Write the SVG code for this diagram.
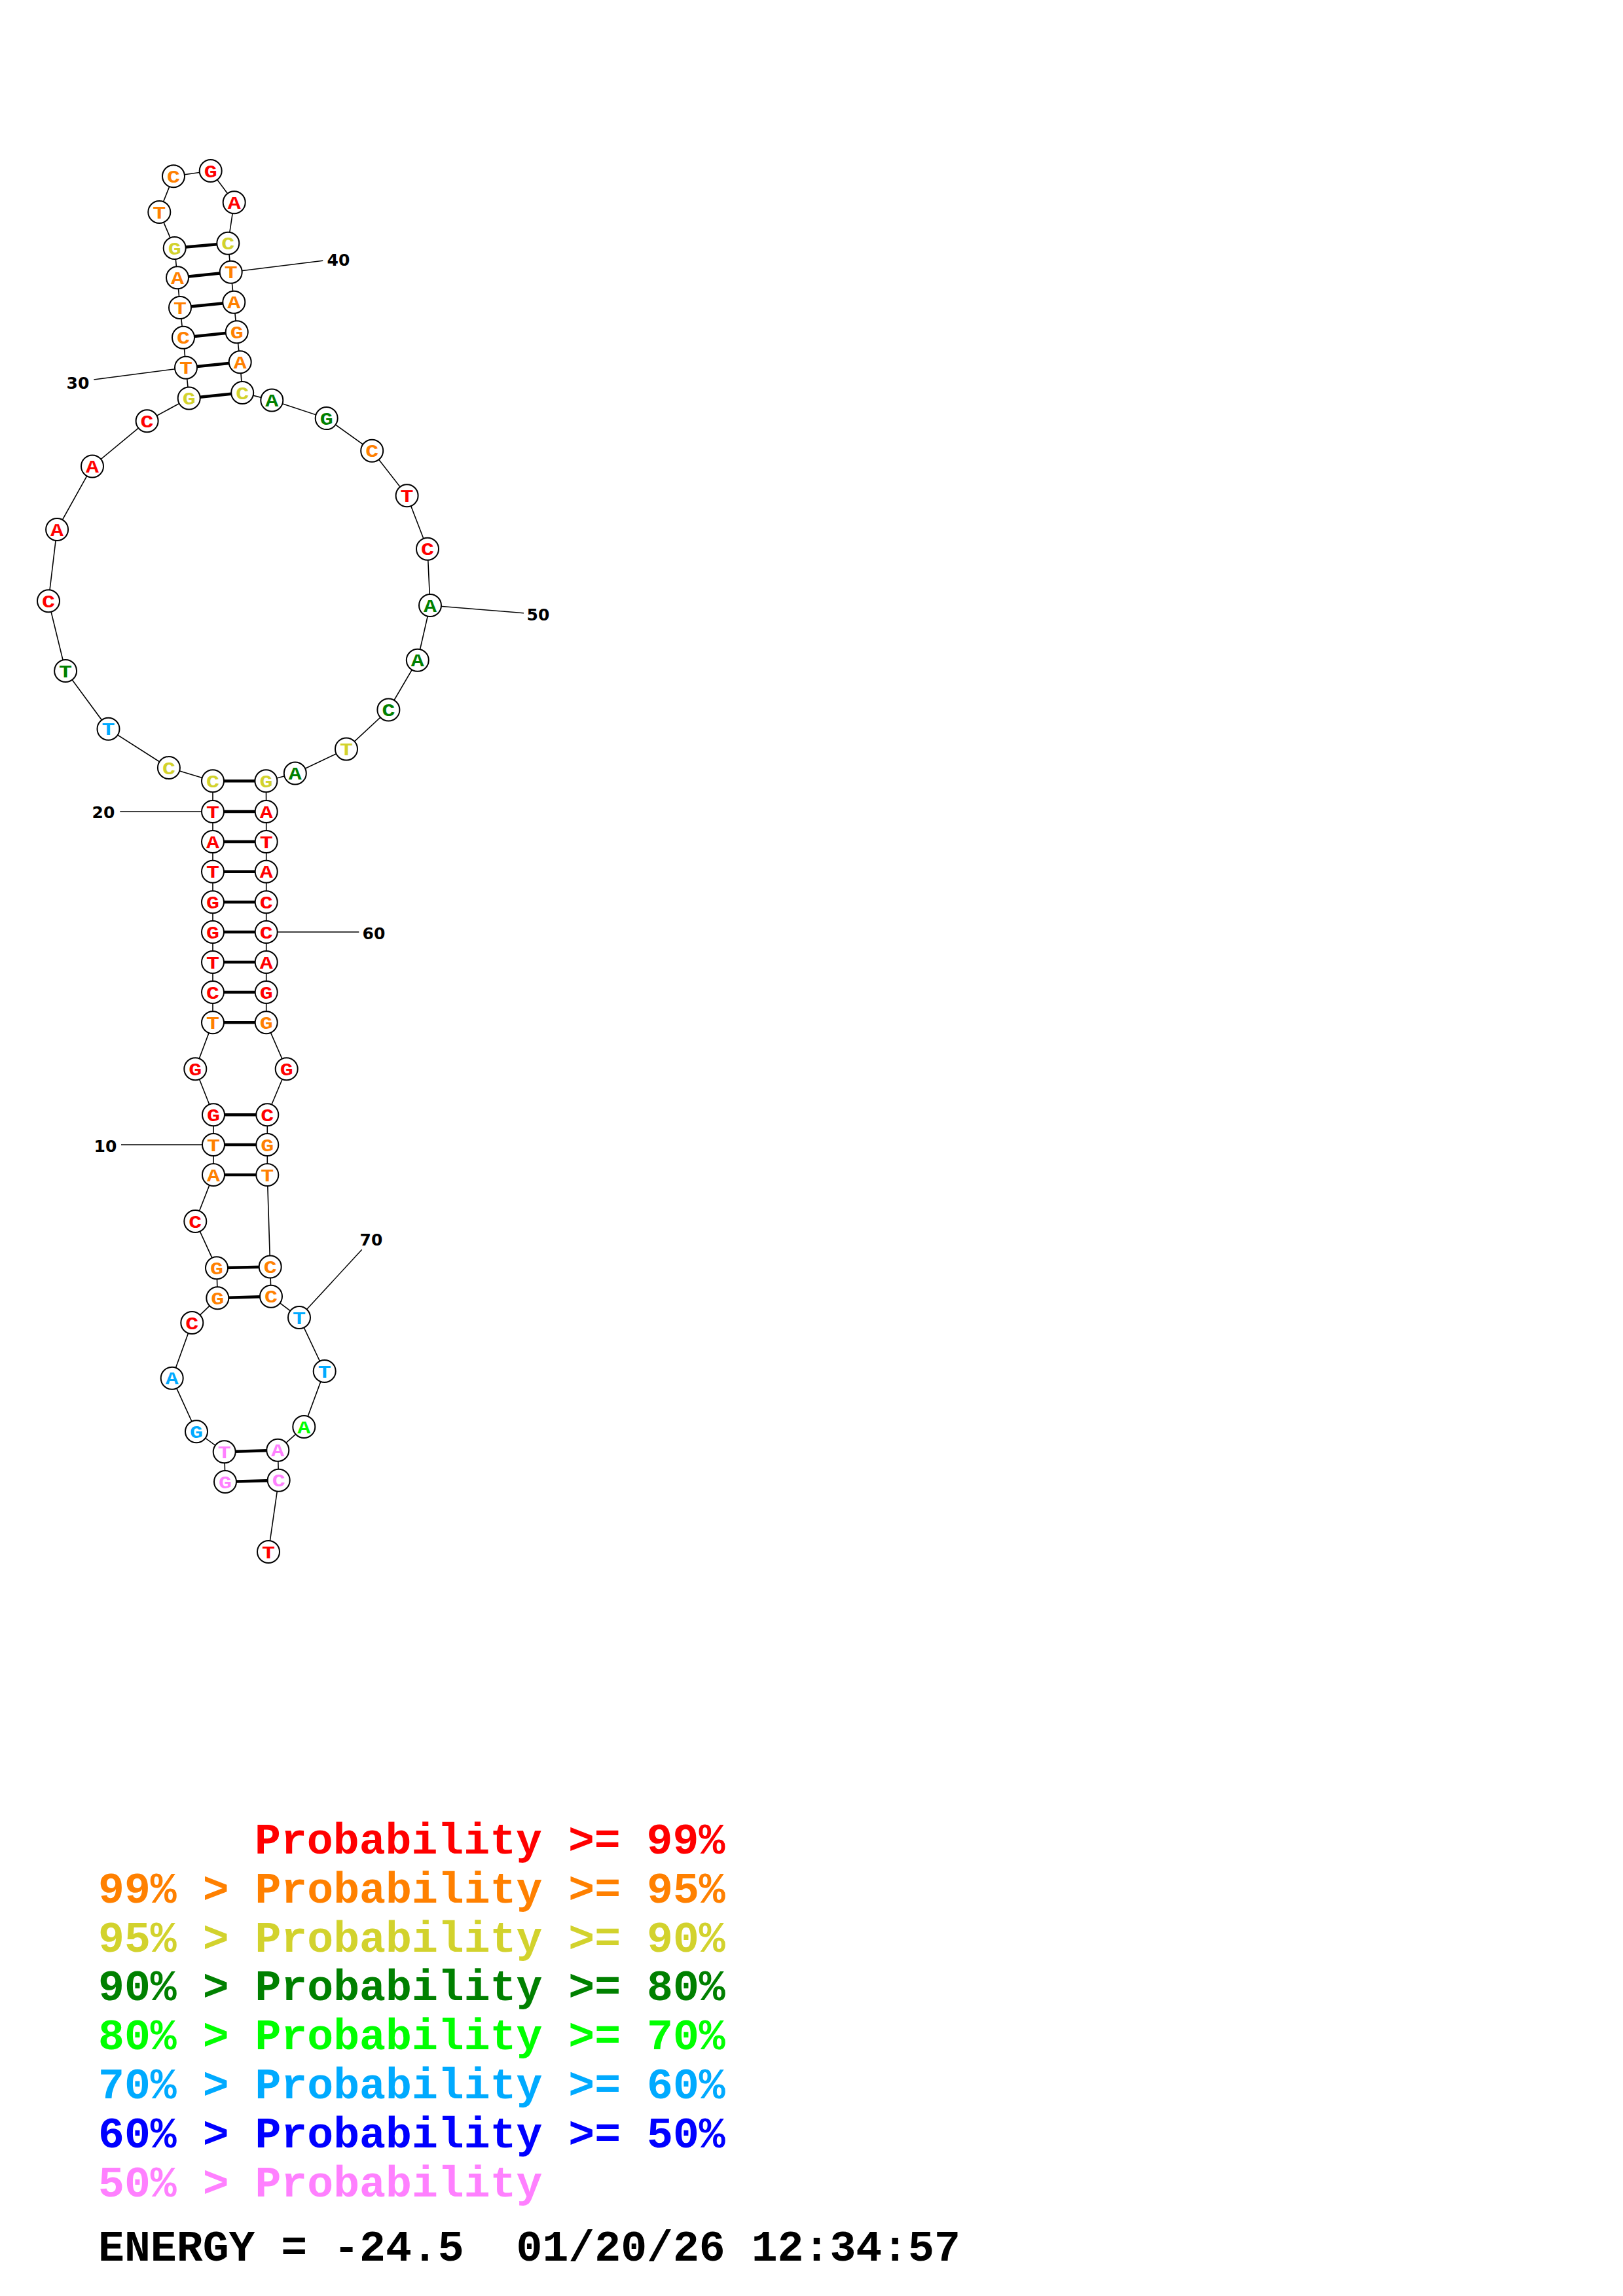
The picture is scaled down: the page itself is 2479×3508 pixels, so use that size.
<svg xmlns="http://www.w3.org/2000/svg" width="2479" height="3508" viewBox="0 0 2479 3508">
<style>
.bb{stroke:#000;stroke-width:1.6;fill:none}
.bp{stroke:#000;stroke-width:4.5;fill:none}
.tk{stroke:#000;stroke-width:1.5;fill:none}
.nd circle{fill:#fff;stroke:#000;stroke-width:2}
.nd text{font-family:"Liberation Mono","Courier New",monospace;font-weight:bold;font-size:28px;text-anchor:middle}
.num{font-family:"DejaVu Sans","Verdana",sans-serif;font-weight:bold;font-size:25px;text-anchor:middle;fill:#000}
.lg{font-family:"Liberation Mono","Courier New",monospace;font-weight:bold;font-size:66.5px;white-space:pre}
.r{fill:#FF0000}.o{fill:#FF8000}.y{fill:#D2D22D}.g{fill:#008000}.l{fill:#00FF00}.c{fill:#00AAFF}.b{fill:#0000FF}.p{fill:#FF80FF}.k{fill:#000}
</style>
<rect width="2479" height="3508" fill="#fff"/>
<g id="connectors">
<polyline class="bb" points="344,2264 342.7,2218.3 300,2187.3 262.7,2105.7 293.3,2021 332.3,1983.3 331,1937.3 298.3,1866 326,1795 326,1749 326,1703.3 298.3,1633.3 325,1562.3 325,1516 325,1470 325,1424 325,1378.3 325,1331.7 325,1286 325,1240 325,1193.3 257.9,1173 165.5,1113.8 100.1,1025 74,918.2 87.1,809 141,712.4 224.6,643.2 288.7,608.4 284,561.7 280,515.7 275,470 271,424.3 266.7,379 243.3,324 265,269.3 321.7,261 357.7,309.3 348.3,371.7 352.7,415.7 357.3,461.7 361.7,507.3 366.7,553.3 370.2,600 415.3,611.5 498.7,639.1 568.2,688.8 621.6,757.3 653,838.8 657,925 637.8,1008.7 593.4,1084.5 529,1144.4 450.8,1181.5 406.4,1193.3 406.7,1240 406.7,1286 406.7,1331.7 406.7,1378.3 406.7,1424 406.7,1470 406.7,1516 406.7,1562.3 437.7,1633.3 408.3,1703.3 408.3,1749 408.3,1795 412.7,1935.5 414,1980.7 457,2013 495.7,2095 464.3,2180 424.3,2215.7 425.7,2261.7 410,2371"/>
<line class="bp" x1="344" y1="2264" x2="425.7" y2="2261.7"/>
<line class="bp" x1="342.7" y1="2218.3" x2="424.3" y2="2215.7"/>
<line class="bp" x1="332.3" y1="1983.3" x2="414" y2="1980.7"/>
<line class="bp" x1="331" y1="1937.3" x2="412.7" y2="1935.5"/>
<line class="bp" x1="326" y1="1795" x2="408.3" y2="1795"/>
<line class="bp" x1="326" y1="1749" x2="408.3" y2="1749"/>
<line class="bp" x1="326" y1="1703.3" x2="408.3" y2="1703.3"/>
<line class="bp" x1="325" y1="1562.3" x2="406.7" y2="1562.3"/>
<line class="bp" x1="325" y1="1516" x2="406.7" y2="1516"/>
<line class="bp" x1="325" y1="1470" x2="406.7" y2="1470"/>
<line class="bp" x1="325" y1="1424" x2="406.7" y2="1424"/>
<line class="bp" x1="325" y1="1378.3" x2="406.7" y2="1378.3"/>
<line class="bp" x1="325" y1="1331.7" x2="406.7" y2="1331.7"/>
<line class="bp" x1="325" y1="1286" x2="406.7" y2="1286"/>
<line class="bp" x1="325" y1="1240" x2="406.7" y2="1240"/>
<line class="bp" x1="325" y1="1193.3" x2="406.4" y2="1193.3"/>
<line class="bp" x1="288.7" y1="608.4" x2="370.2" y2="600"/>
<line class="bp" x1="284" y1="561.7" x2="366.7" y2="553.3"/>
<line class="bp" x1="280" y1="515.7" x2="361.7" y2="507.3"/>
<line class="bp" x1="275" y1="470" x2="357.3" y2="461.7"/>
<line class="bp" x1="271" y1="424.3" x2="352.7" y2="415.7"/>
<line class="bp" x1="266.7" y1="379" x2="348.3" y2="371.7"/>
<line class="tk" x1="284" y1="561.7" x2="143.3" y2="580"/>
<line class="tk" x1="352.7" y1="415.7" x2="493.3" y2="398.3"/>
<line class="tk" x1="657" y1="925" x2="800" y2="936.7"/>
<line class="tk" x1="325" y1="1240" x2="183.3" y2="1240"/>
<line class="tk" x1="406.7" y1="1424" x2="548.3" y2="1424"/>
<line class="tk" x1="326" y1="1749" x2="185" y2="1749"/>
<line class="tk" x1="457" y1="2013" x2="552.7" y2="1909.3"/>
</g>
<g id="labels">
<text class="num" x="119" y="594">30</text>
<text class="num" x="517" y="406">40</text>
<text class="num" x="822" y="948">50</text>
<text class="num" x="158" y="1250">20</text>
<text class="num" x="571" y="1435">60</text>
<text class="num" x="161" y="1760">10</text>
<text class="num" x="567" y="1903">70</text>
</g>
<g id="n1" class="nd"><circle cx="344" cy="2264" r="17"/><text class="p" x="344" y="2273.5" textLength="20" lengthAdjust="spacingAndGlyphs">G</text></g>
<g id="n2" class="nd"><circle cx="342.7" cy="2218.3" r="17"/><text class="p" x="342.7" y="2227.8" textLength="20" lengthAdjust="spacingAndGlyphs">T</text></g>
<g id="n3" class="nd"><circle cx="300" cy="2187.3" r="17"/><text class="c" x="300" y="2196.8" textLength="20" lengthAdjust="spacingAndGlyphs">G</text></g>
<g id="n4" class="nd"><circle cx="262.7" cy="2105.7" r="17"/><text class="c" x="262.7" y="2115.2" textLength="20" lengthAdjust="spacingAndGlyphs">A</text></g>
<g id="n5" class="nd"><circle cx="293.3" cy="2021" r="17"/><text class="r" x="293.3" y="2030.5" textLength="20" lengthAdjust="spacingAndGlyphs">C</text></g>
<g id="n6" class="nd"><circle cx="332.3" cy="1983.3" r="17"/><text class="o" x="332.3" y="1992.8" textLength="20" lengthAdjust="spacingAndGlyphs">G</text></g>
<g id="n7" class="nd"><circle cx="331" cy="1937.3" r="17"/><text class="o" x="331" y="1946.8" textLength="20" lengthAdjust="spacingAndGlyphs">G</text></g>
<g id="n8" class="nd"><circle cx="298.3" cy="1866" r="17"/><text class="r" x="298.3" y="1875.5" textLength="20" lengthAdjust="spacingAndGlyphs">C</text></g>
<g id="n9" class="nd"><circle cx="326" cy="1795" r="17"/><text class="o" x="326" y="1804.5" textLength="20" lengthAdjust="spacingAndGlyphs">A</text></g>
<g id="n10" class="nd"><circle cx="326" cy="1749" r="17"/><text class="o" x="326" y="1758.5" textLength="20" lengthAdjust="spacingAndGlyphs">T</text></g>
<g id="n11" class="nd"><circle cx="326" cy="1703.3" r="17"/><text class="r" x="326" y="1712.8" textLength="20" lengthAdjust="spacingAndGlyphs">G</text></g>
<g id="n12" class="nd"><circle cx="298.3" cy="1633.3" r="17"/><text class="r" x="298.3" y="1642.8" textLength="20" lengthAdjust="spacingAndGlyphs">G</text></g>
<g id="n13" class="nd"><circle cx="325" cy="1562.3" r="17"/><text class="o" x="325" y="1571.8" textLength="20" lengthAdjust="spacingAndGlyphs">T</text></g>
<g id="n14" class="nd"><circle cx="325" cy="1516" r="17"/><text class="r" x="325" y="1525.5" textLength="20" lengthAdjust="spacingAndGlyphs">C</text></g>
<g id="n15" class="nd"><circle cx="325" cy="1470" r="17"/><text class="r" x="325" y="1479.5" textLength="20" lengthAdjust="spacingAndGlyphs">T</text></g>
<g id="n16" class="nd"><circle cx="325" cy="1424" r="17"/><text class="r" x="325" y="1433.5" textLength="20" lengthAdjust="spacingAndGlyphs">G</text></g>
<g id="n17" class="nd"><circle cx="325" cy="1378.3" r="17"/><text class="r" x="325" y="1387.8" textLength="20" lengthAdjust="spacingAndGlyphs">G</text></g>
<g id="n18" class="nd"><circle cx="325" cy="1331.7" r="17"/><text class="r" x="325" y="1341.2" textLength="20" lengthAdjust="spacingAndGlyphs">T</text></g>
<g id="n19" class="nd"><circle cx="325" cy="1286" r="17"/><text class="r" x="325" y="1295.5" textLength="20" lengthAdjust="spacingAndGlyphs">A</text></g>
<g id="n20" class="nd"><circle cx="325" cy="1240" r="17"/><text class="r" x="325" y="1249.5" textLength="20" lengthAdjust="spacingAndGlyphs">T</text></g>
<g id="n21" class="nd"><circle cx="325" cy="1193.3" r="17"/><text class="y" x="325" y="1202.8" textLength="20" lengthAdjust="spacingAndGlyphs">C</text></g>
<g id="n22" class="nd"><circle cx="257.9" cy="1173" r="17"/><text class="y" x="257.9" y="1182.5" textLength="20" lengthAdjust="spacingAndGlyphs">C</text></g>
<g id="n23" class="nd"><circle cx="165.5" cy="1113.8" r="17"/><text class="c" x="165.5" y="1123.3" textLength="20" lengthAdjust="spacingAndGlyphs">T</text></g>
<g id="n24" class="nd"><circle cx="100.1" cy="1025" r="17"/><text class="g" x="100.1" y="1034.5" textLength="20" lengthAdjust="spacingAndGlyphs">T</text></g>
<g id="n25" class="nd"><circle cx="74" cy="918.2" r="17"/><text class="r" x="74" y="927.7" textLength="20" lengthAdjust="spacingAndGlyphs">C</text></g>
<g id="n26" class="nd"><circle cx="87.1" cy="809" r="17"/><text class="r" x="87.1" y="818.5" textLength="20" lengthAdjust="spacingAndGlyphs">A</text></g>
<g id="n27" class="nd"><circle cx="141" cy="712.4" r="17"/><text class="r" x="141" y="721.9" textLength="20" lengthAdjust="spacingAndGlyphs">A</text></g>
<g id="n28" class="nd"><circle cx="224.6" cy="643.2" r="17"/><text class="r" x="224.6" y="652.7" textLength="20" lengthAdjust="spacingAndGlyphs">C</text></g>
<g id="n29" class="nd"><circle cx="288.7" cy="608.4" r="17"/><text class="y" x="288.7" y="617.9" textLength="20" lengthAdjust="spacingAndGlyphs">G</text></g>
<g id="n30" class="nd"><circle cx="284" cy="561.7" r="17"/><text class="o" x="284" y="571.2" textLength="20" lengthAdjust="spacingAndGlyphs">T</text></g>
<g id="n31" class="nd"><circle cx="280" cy="515.7" r="17"/><text class="o" x="280" y="525.2" textLength="20" lengthAdjust="spacingAndGlyphs">C</text></g>
<g id="n32" class="nd"><circle cx="275" cy="470" r="17"/><text class="o" x="275" y="479.5" textLength="20" lengthAdjust="spacingAndGlyphs">T</text></g>
<g id="n33" class="nd"><circle cx="271" cy="424.3" r="17"/><text class="o" x="271" y="433.8" textLength="20" lengthAdjust="spacingAndGlyphs">A</text></g>
<g id="n34" class="nd"><circle cx="266.7" cy="379" r="17"/><text class="y" x="266.7" y="388.5" textLength="20" lengthAdjust="spacingAndGlyphs">G</text></g>
<g id="n35" class="nd"><circle cx="243.3" cy="324" r="17"/><text class="o" x="243.3" y="333.5" textLength="20" lengthAdjust="spacingAndGlyphs">T</text></g>
<g id="n36" class="nd"><circle cx="265" cy="269.3" r="17"/><text class="o" x="265" y="278.8" textLength="20" lengthAdjust="spacingAndGlyphs">C</text></g>
<g id="n37" class="nd"><circle cx="321.7" cy="261" r="17"/><text class="r" x="321.7" y="270.5" textLength="20" lengthAdjust="spacingAndGlyphs">G</text></g>
<g id="n38" class="nd"><circle cx="357.7" cy="309.3" r="17"/><text class="r" x="357.7" y="318.8" textLength="20" lengthAdjust="spacingAndGlyphs">A</text></g>
<g id="n39" class="nd"><circle cx="348.3" cy="371.7" r="17"/><text class="y" x="348.3" y="381.2" textLength="20" lengthAdjust="spacingAndGlyphs">C</text></g>
<g id="n40" class="nd"><circle cx="352.7" cy="415.7" r="17"/><text class="o" x="352.7" y="425.2" textLength="20" lengthAdjust="spacingAndGlyphs">T</text></g>
<g id="n41" class="nd"><circle cx="357.3" cy="461.7" r="17"/><text class="o" x="357.3" y="471.2" textLength="20" lengthAdjust="spacingAndGlyphs">A</text></g>
<g id="n42" class="nd"><circle cx="361.7" cy="507.3" r="17"/><text class="o" x="361.7" y="516.8" textLength="20" lengthAdjust="spacingAndGlyphs">G</text></g>
<g id="n43" class="nd"><circle cx="366.7" cy="553.3" r="17"/><text class="o" x="366.7" y="562.8" textLength="20" lengthAdjust="spacingAndGlyphs">A</text></g>
<g id="n44" class="nd"><circle cx="370.2" cy="600" r="17"/><text class="y" x="370.2" y="609.5" textLength="20" lengthAdjust="spacingAndGlyphs">C</text></g>
<g id="n45" class="nd"><circle cx="415.3" cy="611.5" r="17"/><text class="g" x="415.3" y="621" textLength="20" lengthAdjust="spacingAndGlyphs">A</text></g>
<g id="n46" class="nd"><circle cx="498.7" cy="639.1" r="17"/><text class="g" x="498.7" y="648.6" textLength="20" lengthAdjust="spacingAndGlyphs">G</text></g>
<g id="n47" class="nd"><circle cx="568.2" cy="688.8" r="17"/><text class="o" x="568.2" y="698.3" textLength="20" lengthAdjust="spacingAndGlyphs">C</text></g>
<g id="n48" class="nd"><circle cx="621.6" cy="757.3" r="17"/><text class="r" x="621.6" y="766.8" textLength="20" lengthAdjust="spacingAndGlyphs">T</text></g>
<g id="n49" class="nd"><circle cx="653" cy="838.8" r="17"/><text class="r" x="653" y="848.3" textLength="20" lengthAdjust="spacingAndGlyphs">C</text></g>
<g id="n50" class="nd"><circle cx="657" cy="925" r="17"/><text class="g" x="657" y="934.5" textLength="20" lengthAdjust="spacingAndGlyphs">A</text></g>
<g id="n51" class="nd"><circle cx="637.8" cy="1008.7" r="17"/><text class="g" x="637.8" y="1018.2" textLength="20" lengthAdjust="spacingAndGlyphs">A</text></g>
<g id="n52" class="nd"><circle cx="593.4" cy="1084.5" r="17"/><text class="g" x="593.4" y="1094" textLength="20" lengthAdjust="spacingAndGlyphs">C</text></g>
<g id="n53" class="nd"><circle cx="529" cy="1144.4" r="17"/><text class="y" x="529" y="1153.9" textLength="20" lengthAdjust="spacingAndGlyphs">T</text></g>
<g id="n54" class="nd"><circle cx="450.8" cy="1181.5" r="17"/><text class="g" x="450.8" y="1191" textLength="20" lengthAdjust="spacingAndGlyphs">A</text></g>
<g id="n55" class="nd"><circle cx="406.4" cy="1193.3" r="17"/><text class="y" x="406.4" y="1202.8" textLength="20" lengthAdjust="spacingAndGlyphs">G</text></g>
<g id="n56" class="nd"><circle cx="406.7" cy="1240" r="17"/><text class="r" x="406.7" y="1249.5" textLength="20" lengthAdjust="spacingAndGlyphs">A</text></g>
<g id="n57" class="nd"><circle cx="406.7" cy="1286" r="17"/><text class="r" x="406.7" y="1295.5" textLength="20" lengthAdjust="spacingAndGlyphs">T</text></g>
<g id="n58" class="nd"><circle cx="406.7" cy="1331.7" r="17"/><text class="r" x="406.7" y="1341.2" textLength="20" lengthAdjust="spacingAndGlyphs">A</text></g>
<g id="n59" class="nd"><circle cx="406.7" cy="1378.3" r="17"/><text class="r" x="406.7" y="1387.8" textLength="20" lengthAdjust="spacingAndGlyphs">C</text></g>
<g id="n60" class="nd"><circle cx="406.7" cy="1424" r="17"/><text class="r" x="406.7" y="1433.5" textLength="20" lengthAdjust="spacingAndGlyphs">C</text></g>
<g id="n61" class="nd"><circle cx="406.7" cy="1470" r="17"/><text class="r" x="406.7" y="1479.5" textLength="20" lengthAdjust="spacingAndGlyphs">A</text></g>
<g id="n62" class="nd"><circle cx="406.7" cy="1516" r="17"/><text class="r" x="406.7" y="1525.5" textLength="20" lengthAdjust="spacingAndGlyphs">G</text></g>
<g id="n63" class="nd"><circle cx="406.7" cy="1562.3" r="17"/><text class="o" x="406.7" y="1571.8" textLength="20" lengthAdjust="spacingAndGlyphs">G</text></g>
<g id="n64" class="nd"><circle cx="437.7" cy="1633.3" r="17"/><text class="r" x="437.7" y="1642.8" textLength="20" lengthAdjust="spacingAndGlyphs">G</text></g>
<g id="n65" class="nd"><circle cx="408.3" cy="1703.3" r="17"/><text class="r" x="408.3" y="1712.8" textLength="20" lengthAdjust="spacingAndGlyphs">C</text></g>
<g id="n66" class="nd"><circle cx="408.3" cy="1749" r="17"/><text class="o" x="408.3" y="1758.5" textLength="20" lengthAdjust="spacingAndGlyphs">G</text></g>
<g id="n67" class="nd"><circle cx="408.3" cy="1795" r="17"/><text class="o" x="408.3" y="1804.5" textLength="20" lengthAdjust="spacingAndGlyphs">T</text></g>
<g id="n68" class="nd"><circle cx="412.7" cy="1935.5" r="17"/><text class="o" x="412.7" y="1945" textLength="20" lengthAdjust="spacingAndGlyphs">C</text></g>
<g id="n69" class="nd"><circle cx="414" cy="1980.7" r="17"/><text class="o" x="414" y="1990.2" textLength="20" lengthAdjust="spacingAndGlyphs">C</text></g>
<g id="n70" class="nd"><circle cx="457" cy="2013" r="17"/><text class="c" x="457" y="2022.5" textLength="20" lengthAdjust="spacingAndGlyphs">T</text></g>
<g id="n71" class="nd"><circle cx="495.7" cy="2095" r="17"/><text class="c" x="495.7" y="2104.5" textLength="20" lengthAdjust="spacingAndGlyphs">T</text></g>
<g id="n72" class="nd"><circle cx="464.3" cy="2180" r="17"/><text class="l" x="464.3" y="2189.5" textLength="20" lengthAdjust="spacingAndGlyphs">A</text></g>
<g id="n73" class="nd"><circle cx="424.3" cy="2215.7" r="17"/><text class="p" x="424.3" y="2225.2" textLength="20" lengthAdjust="spacingAndGlyphs">A</text></g>
<g id="n74" class="nd"><circle cx="425.7" cy="2261.7" r="17"/><text class="p" x="425.7" y="2271.2" textLength="20" lengthAdjust="spacingAndGlyphs">C</text></g>
<g id="n75" class="nd"><circle cx="410" cy="2371" r="17"/><text class="r" x="410" y="2380.5" textLength="20" lengthAdjust="spacingAndGlyphs">T</text></g>
<g id="legend">
<text class="lg r" x="389" y="2832">Probability &gt;= 99%</text>
<text class="lg o" x="150" y="2907">99% &gt; Probability &gt;= 95%</text>
<text class="lg y" x="150" y="2982">95% &gt; Probability &gt;= 90%</text>
<text class="lg g" x="150" y="3056">90% &gt; Probability &gt;= 80%</text>
<text class="lg l" x="150" y="3131">80% &gt; Probability &gt;= 70%</text>
<text class="lg c" x="150" y="3206">70% &gt; Probability &gt;= 60%</text>
<text class="lg b" x="150" y="3281">60% &gt; Probability &gt;= 50%</text>
<text class="lg p" x="150" y="3356">50% &gt; Probability</text>
<text class="lg k" x="150" y="3454">ENERGY = -24.5  01/20/26 12:34:57</text>
</g>
</svg>
